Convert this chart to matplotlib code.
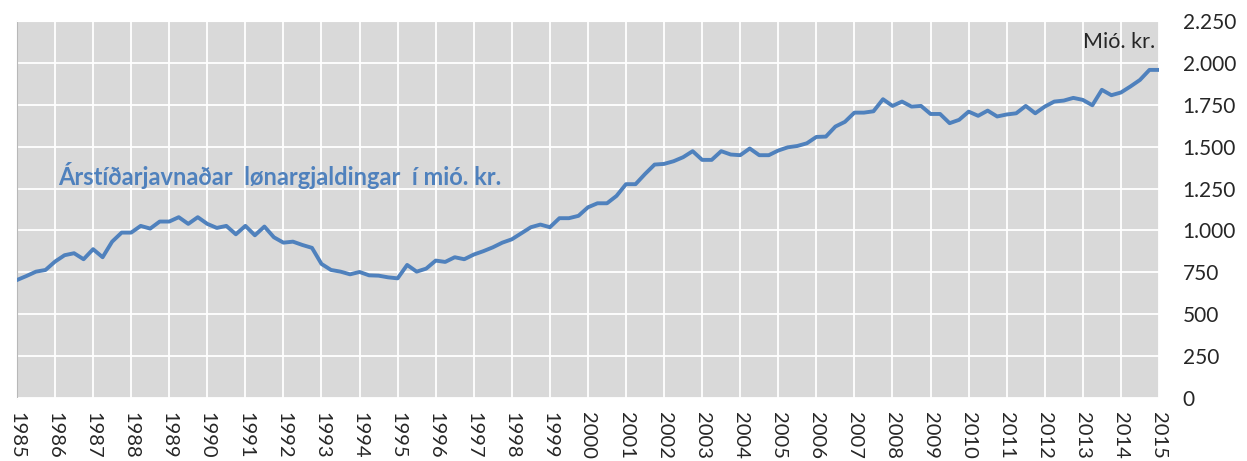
import matplotlib
matplotlib.use("Agg")
from matplotlib import pyplot as plt
from matplotlib.ticker import FuncFormatter
import numpy as np

# Quarterly values, 1985 Q1 .. 2015 Q1 (mió. kr.)
start_year = 1985
values = [
    704, 728, 754, 764,      # 1985
    814, 852, 864, 828,      # 1986
    888, 840, 933, 987,      # 1987
    987, 1027, 1011, 1053,   # 1988
    1053, 1079, 1039, 1079,  # 1989
    1039, 1015, 1027, 977,   # 1990
    1027, 971, 1023, 959,    # 1991
    927, 933, 913, 896,      # 1992
    800, 764, 754, 738,      # 1993
    752, 732, 730, 720,      # 1994
    714, 794, 754, 772,      # 1995
    820, 812, 840, 828,      # 1996
    856, 876, 899, 927,      # 1997
    947, 983, 1019, 1035,    # 1998
    1019, 1073, 1073, 1087,  # 1999
    1138, 1162, 1162, 1206,  # 2000
    1276, 1276, 1337, 1393,  # 2001
    1397, 1413, 1437, 1473,  # 2002
    1421, 1421, 1473, 1453,  # 2003
    1449, 1489, 1449, 1449,  # 2004
    1477, 1496, 1504, 1520,  # 2005
    1558, 1560, 1620, 1648,  # 2006
    1703, 1703, 1711, 1783,  # 2007
    1743, 1769, 1739, 1743,  # 2008
    1695, 1695, 1640, 1660,  # 2009
    1709, 1684, 1715, 1680,  # 2010
    1692, 1699, 1743, 1699,  # 2011
    1739, 1769, 1775, 1791,  # 2012
    1779, 1747, 1839, 1807,  # 2013
    1823, 1859, 1898, 1958,  # 2014
    1958,                    # 2015
]
year_ticks = list(range(1985, 2016))
y_ticks = list(range(0, 2251, 250))

series_label = "Árstíðarjavnaðar  lønargjaldingar  í mió. kr."
unit_label = "Mió. kr."

blue = "#4f81bd"
x = start_year + np.arange(len(values)) / 4.0

fig = plt.figure(figsize=(12.47, 4.61), dpi=100)
ax = fig.add_axes([0.0136, 0.1367, 0.9158, 0.8178])
ax.set_facecolor("#d9d9d9")

ax.plot(x, values, color=blue, lw=2.8, solid_joinstyle="round", zorder=3)

# grid
ax.set_xticks(year_ticks)
ax.set_yticks(y_ticks)
ax.grid(True, color="white", lw=1.3, zorder=1)
ax.set_axisbelow(True)
ax.set_xlim(1985, 2015)
ax.set_ylim(0, 2250)

# ticks / labels
ax.yaxis.tick_right()
ax.yaxis.set_major_formatter(FuncFormatter(lambda v, p: f"{int(v):,}".replace(",", ".")))
ax.tick_params(axis="y", length=0, pad=17, labelsize=15, labelcolor="#262626")
ax.tick_params(axis="x", length=0, pad=10, labelsize=14.5, labelcolor="#262626")
for lab in ax.get_yticklabels():
    lab.set_family("Lato")
    lab.set_horizontalalignment("left")
ax.set_xticklabels([str(y) for y in year_ticks], rotation=270, family="Lato",
                   ha="center", va="top")

for side in ["top", "right", "bottom"]:
    ax.spines[side].set_color("white")
ax.spines["left"].set_color("#b8b8b8")

ax.text(0.0359, 0.565, series_label, transform=ax.transAxes, color=blue,
        fontsize=17, fontweight="bold", family="Lato", va="baseline", ha="left")
ax.text(0.997, 0.928, unit_label, transform=ax.transAxes, color="#262626",
        fontsize=15.5, family="Lato", va="baseline", ha="right")

fig.savefig("out.png", dpi=100)
